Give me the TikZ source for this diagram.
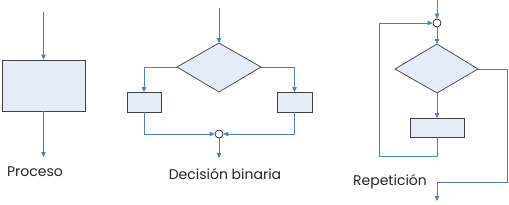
\documentclass[tikz,border=0pt]{standalone}
\usepackage{fontspec}
\setmainfont{Poppins}
\usetikzlibrary{arrows.meta}
\definecolor{lineblue}{HTML}{4F81BD}
\definecolor{fillblue}{HTML}{E4ECF7}
\definecolor{edgegray}{HTML}{404040}
\begin{document}
\begin{tikzpicture}[x=1pt,y=-1pt,
  flow/.style={draw=lineblue, line width=0.8pt},
  arr/.style={flow, -{Triangle[length=5pt,width=4.5pt]}},
  boxshape/.style={draw=edgegray, fill=fillblue, line width=0.7pt},
  joint/.style={circle, draw=black, fill=white, line width=0.6pt, minimum size=8pt, inner sep=0pt},
  lbl/.style={font=\fontsize{14}{16}\selectfont, text=black!85, inner sep=0pt}
]
\useasboundingbox (0,0) rectangle (509,204);
% ---------- Proceso ----------
\coordinate (p0) at (43,12);
\node[boxshape, rectangle, minimum width=83pt, minimum height=51pt, inner sep=0pt] (pbox) at (43.5,85.5) {};
\coordinate (pend) at (43.5,157);
\draw[arr] (p0 -| pbox.north) -- (pbox.north);
\draw[arr] (pbox.south) -- (pend);
\node[lbl] (plabel) at (35,172) {Proceso};
% ---------- Decision binaria ----------
\coordinate (d0) at (219,8);
\coordinate (dtop) at (219,43);
\coordinate (dleft) at (177,67);
\coordinate (dright) at (261,67);
\coordinate (dbot) at (219,92);
\draw[boxshape] (dtop) -- (dright) -- (dbot) -- (dleft) -- cycle;
\draw[boxshape] (127,92) rectangle (161,112);
\draw[boxshape] (277,92) rectangle (312,112);
\coordinate (lbtop) at (144,92);
\coordinate (lbbot) at (144,112);
\coordinate (rbtop) at (294.5,92);
\coordinate (rbbot) at (294.5,112);
\node[joint] (dj) at (219,134) {};
\coordinate (dend) at (219,158);
\draw[arr] (d0) -- (dtop);
\draw[arr] (dleft) -| (lbtop);
\draw[arr] (dright) -| (rbtop);
\draw[arr] (lbbot) |- (dj.west);
\draw[arr] (rbbot) |- (dj.east);
\draw[arr] (dj.south) -- (dend);
\node[lbl] (dlabel) at (225,174) {Decisión binaria};
% ---------- Repeticion ----------
\coordinate (r0) at (437,0);
\node[joint] (rj) at (437,23) {};
\coordinate (rtop) at (437,44);
\coordinate (rleft) at (395,69);
\coordinate (rright) at (478,69);
\coordinate (rbot) at (437,93);
\draw[boxshape] (rtop) -- (rright) -- (rbot) -- (rleft) -- cycle;
\draw[boxshape] (410,118) rectangle (464,137);
\coordinate (rbtop) at (437,118);
\coordinate (rbbot) at (437,137);
\coordinate (rloop1) at (379,156);
\coordinate (rexit1) at (507,182);
\coordinate (rend) at (437,201);
\draw[arr] (r0) -- (rj.north);
\draw[arr] (rj.south) -- (rtop);
\draw[arr] (rbot) -- (rbtop);
\draw[arr] (rbbot) |- (rloop1) |- (rj.west);
\draw[arr] (rright) -| (rexit1) -| (rend);
\node[lbl] (rlabel) at (390,182) {Repetición};
\end{tikzpicture}
\end{document}
